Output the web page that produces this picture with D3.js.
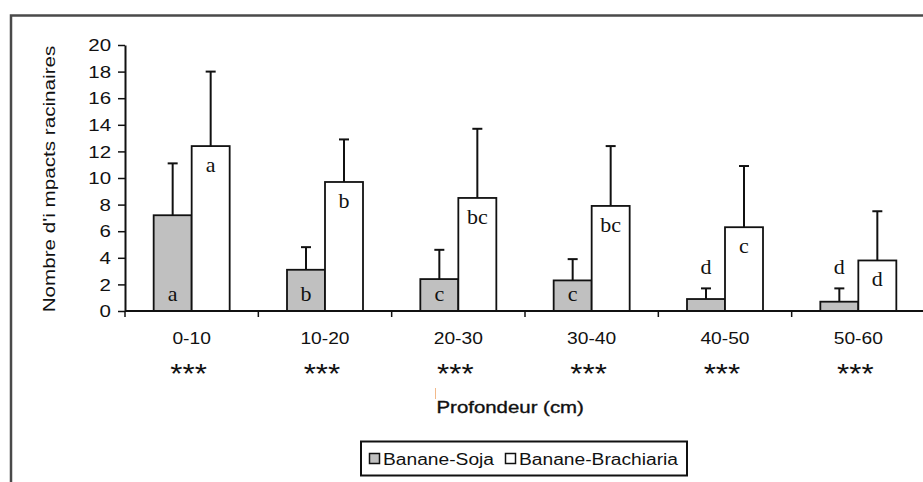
<!DOCTYPE html>
<html>
<head>
<meta charset="utf-8">
<script src="https://cdn.jsdelivr.net/npm/d3@7"></script>
<style>
  html, body { margin: 0; padding: 0; background: #fff; }
  svg { display: block; }
  text { font-family: "Liberation Sans", Arial, sans-serif; fill: #111; }
</style>
</head>
<body>
<svg id="chart" width="923" height="482"></svg>
<script>
// Root impacts per depth layer, two intercropping systems
const depths = ["0-10", "10-20", "20-30", "30-40", "40-50", "50-60"];
const sojaMean = [7.2, 3.1, 2.4, 2.3, 0.9, 0.7];
const sojaSd = [3.9, 1.7, 2.2, 1.6, 0.8, 1.0];
const brachMean = [12.4, 9.7, 8.5, 7.9, 6.3, 3.8];
const brachSd = [5.6, 3.2, 5.2, 4.5, 4.6, 3.7];
const sojaLetters = ["a", "b", "c", "c", "d", "d"];
const brachLetters = ["a", "b", "bc", "bc", "c", "d"];
const signif = ["***", "***", "***", "***", "***", "***"];
const yTicks = [0, 2, 4, 6, 8, 10, 12, 14, 16, 18, 20];
const seriesNames = ["Banane-Soja", "Banane-Brachiaria"];
const seriesFill = ["#c0c0c0", "#ffffff"];

const svg = d3.select("#chart");

// widen a text element horizontally by a factor
function widen(sel, factor) {
  sel.each(function () {
    const w = this.getComputedTextLength();
    d3.select(this).attr("textLength", w * factor).attr("lengthAdjust", "spacingAndGlyphs");
  });
}

// outer frame
svg.append("path")
  .attr("d", "M11,482 L11,15.5 L923,15.5")
  .attr("fill", "none").attr("stroke", "#4a4a4a").attr("stroke-width", 2.5);

const x = d3.scaleBand().domain(depths).range([125, 925]).paddingInner(0).paddingOuter(0);
const y = d3.scaleLinear().domain([0, 20]).range([311, 45]);
const barW = 38;
const cx = d => x(d) + x.bandwidth() / 2;

const g = svg.append("g");

// soja bars
g.selectAll("rect.soja").data(depths).join("rect").attr("class", "soja")
  .attr("x", d => cx(d) - barW)
  .attr("y", (d, i) => y(sojaMean[i]))
  .attr("width", barW)
  .attr("height", (d, i) => y(0) - y(sojaMean[i]))
  .attr("fill", seriesFill[0]).attr("stroke", "#111").attr("stroke-width", 1.8);

// brachiaria bars
g.selectAll("rect.brach").data(depths).join("rect").attr("class", "brach")
  .attr("x", d => cx(d))
  .attr("y", (d, i) => y(brachMean[i]))
  .attr("width", barW)
  .attr("height", (d, i) => y(0) - y(brachMean[i]))
  .attr("fill", seriesFill[1]).attr("stroke", "#111").attr("stroke-width", 1.8);

// error bars (upper only)
function errorBars(cls, means, sds, dx) {
  const eb = g.selectAll("g." + cls).data(depths).join("g").attr("class", cls);
  eb.append("line")
    .attr("x1", d => cx(d) + dx).attr("x2", d => cx(d) + dx)
    .attr("y1", (d, i) => y(means[i])).attr("y2", (d, i) => y(means[i] + sds[i]))
    .attr("stroke", "#111").attr("stroke-width", 2);
  eb.append("line")
    .attr("x1", d => cx(d) + dx - 5).attr("x2", d => cx(d) + dx + 5)
    .attr("y1", (d, i) => y(means[i] + sds[i])).attr("y2", (d, i) => y(means[i] + sds[i]))
    .attr("stroke", "#111").attr("stroke-width", 2);
}
errorBars("errSoja", sojaMean, sojaSd, -barW / 2);
errorBars("errBrach", brachMean, brachSd, barW / 2);

// significance letters
g.selectAll("text.lSoja").data(depths).join("text").attr("class", "lSoja")
  .attr("x", d => cx(d) - barW / 2)
  .attr("y", (d, i) => sojaMean[i] < 1.5 ? y(sojaMean[i] + sojaSd[i]) - 14 : y(0) - 10)
  .attr("text-anchor", "middle")
  .style("font-family", "'Liberation Serif', 'Times New Roman', serif")
  .style("font-size", "22px")
  .text((d, i) => sojaLetters[i]);

g.selectAll("text.lBrach").data(depths).join("text").attr("class", "lBrach")
  .attr("x", d => cx(d) + barW / 2)
  .attr("y", (d, i) => y(brachMean[i]) + 26)
  .attr("text-anchor", "middle")
  .style("font-family", "'Liberation Serif', 'Times New Roman', serif")
  .style("font-size", "22px")
  .text((d, i) => brachLetters[i]);

// y axis
const yAxis = svg.append("g").attr("transform", "translate(125,0)")
  .call(d3.axisLeft(y).tickValues(yTicks).tickSize(7).tickPadding(7).tickSizeOuter(0));
yAxis.select(".domain").attr("stroke", "#111").attr("stroke-width", 2);
yAxis.selectAll(".tick line").attr("stroke", "#111").attr("stroke-width", 1.5);
yAxis.selectAll(".tick text")
  .attr("dy", "0.36em")
  .style("font-family", "'Liberation Sans', Arial, sans-serif")
  .style("font-size", "16px").attr("fill", "#111")
  .call(widen, 1.28);

// x axis: ticks on category boundaries
const xAxisY = y(0);
svg.append("line")
  .attr("x1", 125).attr("x2", 923).attr("y1", xAxisY).attr("y2", xAxisY)
  .attr("stroke", "#111").attr("stroke-width", 2);
const bounds = depths.map(d => x(d)).concat([x.range()[1]]);
svg.selectAll("line.xtick").data(bounds).join("line").attr("class", "xtick")
  .attr("x1", d => d).attr("x2", d => d)
  .attr("y1", xAxisY).attr("y2", xAxisY + 6)
  .attr("stroke", "#111").attr("stroke-width", 1.5);

// category labels
svg.selectAll("text.xlab").data(depths).join("text").attr("class", "xlab")
  .attr("x", d => cx(d)).attr("y", 344)
  .attr("text-anchor", "middle")
  .style("font-size", "16px")
  .text(d => d)
  .call(widen, 1.2);

// significance between systems
svg.selectAll("text.sig").data(depths).join("text").attr("class", "sig")
  .attr("x", d => cx(d) - 3).attr("y", 383)
  .attr("text-anchor", "middle")
  .style("font-size", "28px")
  .attr("fill", "#3a3a3a")
  .text((d, i) => signif[i])
  .call(widen, 1.12);

// axis titles
svg.append("text")
  .attr("transform", "translate(55,179) rotate(-90)")
  .attr("text-anchor", "middle")
  .style("font-size", "16px")
  .text("Nombre d'i mpacts racinaires")
  .call(widen, 1.29);

svg.append("line")
  .attr("x1", 435.5).attr("x2", 435.5).attr("y1", 388).attr("y2", 399)
  .attr("stroke", "#f2b98a").attr("stroke-width", 1);

svg.append("text")
  .attr("x", 436.5).attr("y", 413)
  .style("font-size", "17px")
  .attr("stroke", "#111").attr("stroke-width", 0.35)
  .text("Profondeur (cm)")
  .call(widen, 1.2);

// legend
const leg = svg.append("g");
leg.append("rect")
  .attr("x", 361).attr("y", 441.5).attr("width", 326).attr("height", 34)
  .attr("fill", "#fff").attr("stroke", "#111").attr("stroke-width", 2);
const legX = [369, 505];
seriesNames.forEach((name, i) => {
  leg.append("rect")
    .attr("x", legX[i] + 0.5).attr("y", 453.5).attr("width", 10).attr("height", 10)
    .attr("fill", seriesFill[i]).attr("stroke", "#111").attr("stroke-width", 1.5);
  leg.append("text")
    .attr("x", legX[i] + 14).attr("y", 464.5)
    .style("font-size", "16px")
    .text(name)
    .call(widen, 1.2);
});
</script>
</body>
</html>
